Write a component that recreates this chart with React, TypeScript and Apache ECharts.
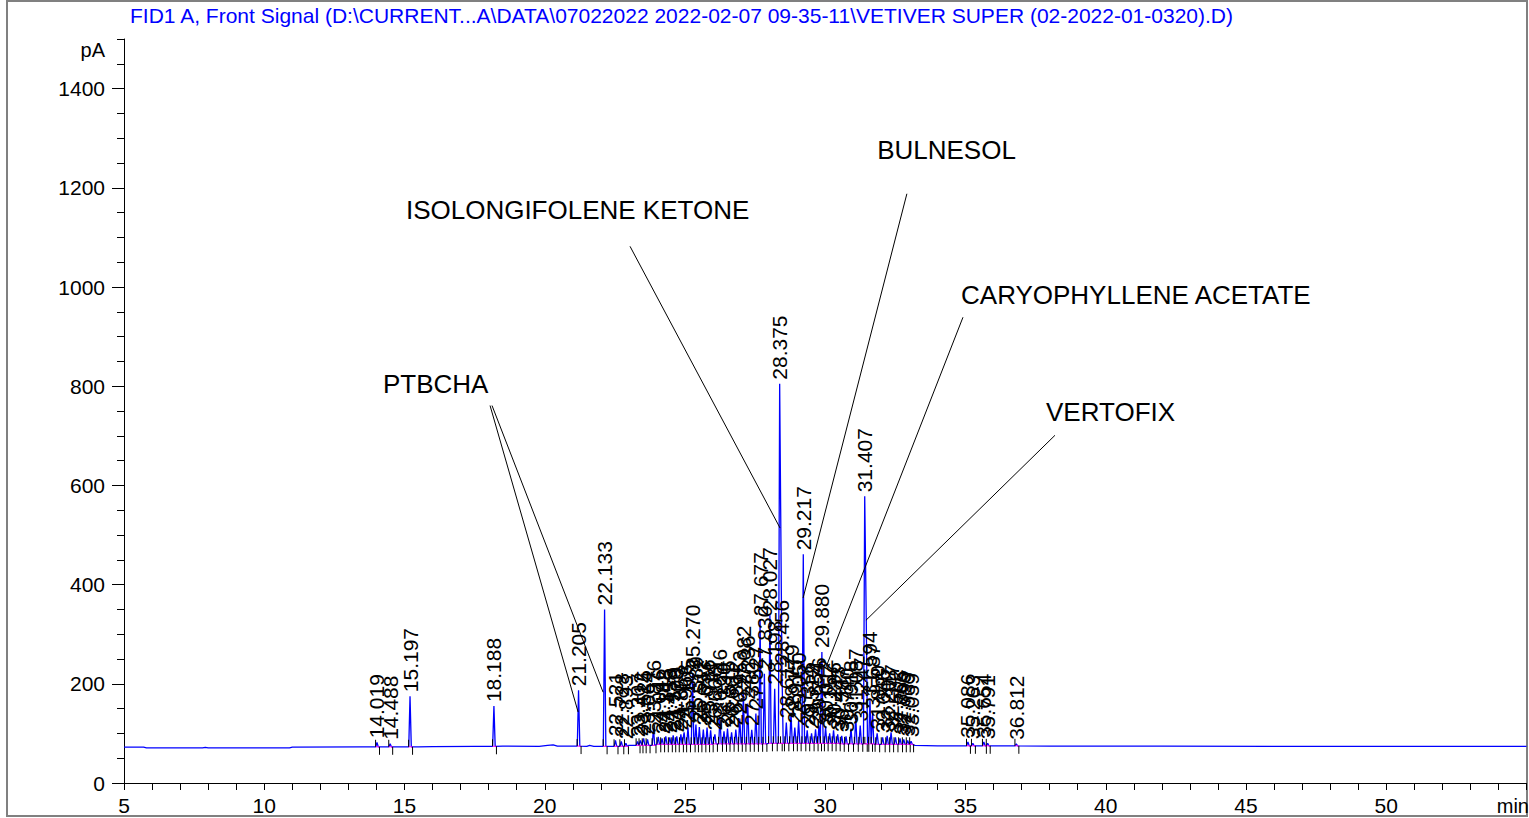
import React, { useEffect, useRef } from "react";
import * as echarts from "echarts";

const TITLE =
  "FID1 A, Front Signal (D:\\CURRENT...A\\DATA\\07022022 2022-02-07 09-35-11\\VETIVER SUPER (02-2022-01-0320).D)";

const X_LABELS = [5, 10, 15, 20, 25, 30, 35, 40, 45, 50];
const X_TICKS = [
  5, 6, 7, 8, 9, 10, 11, 12, 13, 14, 15, 16, 17, 18, 19, 20, 21, 22, 23, 24, 25, 26, 27, 28, 29, 30,
  31, 32, 33, 34, 35, 36, 37, 38, 39, 40, 41, 42, 43, 44, 45, 46, 47, 48, 49, 50, 51, 52, 53, 54, 55,
];
const Y_LABELS = [0, 200, 400, 600, 800, 1000, 1200, 1400];
const Y_MINOR = [
  0, 50, 100, 150, 200, 250, 300, 350, 400, 450, 500, 550, 600, 650, 700, 750, 800, 850, 900, 950,
  1000, 1050, 1100, 1150, 1200, 1250, 1300, 1350, 1400, 1450, 1500,
];

// baseline level of the signal [min, pA]
const BASELINE: [number, number][] = [
  [5, 72.5], [5.7, 72.5], [5.8, 71], [7.8, 71], [7.9, 72], [8.0, 71], [10.9, 71], [11.0, 72.5],
  [13.5, 73], [15.5, 73], [16, 73.5], [17.5, 74], [18.5, 74.5], [19.8, 74], [20.1, 76], [20.3, 77],
  [20.45, 74.5], [21.5, 74], [21.6, 76], [21.75, 74], [22.3, 74], [23.0, 76], [24.0, 78], [26.0, 79],
  [28.0, 80], [29.5, 80], [30.5, 79], [31.8, 78], [33.2, 76], [34.0, 75], [36.0, 75], [38.0, 74.5],
  [42.0, 74.5], [46.0, 74], [50.0, 74], [55.0, 74],
];

// peaks [retention time, apex pA]
const PEAK_TIMES = [
  14.019, 14.488, 15.197, 18.188, 21.205, 22.133, 22.521, 22.728, 22.893, 23.307, 23.412, 23.525,
  23.664, 23.876, 24.046, 24.182, 24.315, 24.458, 24.579, 24.706, 24.853, 24.968, 25.105, 25.27,
  25.389, 25.512, 25.653, 25.786, 25.914, 26.066, 26.246, 26.39, 26.515, 26.661, 26.812, 26.953,
  27.082, 27.236, 27.38, 27.527, 27.677, 27.83, 28.027, 28.198, 28.375, 28.456, 28.612, 28.779,
  28.915, 29.05, 29.217, 29.356, 29.512, 29.654, 29.776, 29.88, 30.012, 30.157, 30.296, 30.443,
  30.587, 30.74, 30.918, 31.087, 31.247, 31.407, 31.462, 31.594, 31.687, 31.85, 32.046, 32.207,
  32.347, 32.502, 32.665, 32.799, 32.939, 33.059, 35.086, 35.263, 35.654, 35.791, 36.812,
];
const PEAK_HEIGHTS = [
  82, 79, 175, 155, 187, 350, 86, 84, 80, 84, 86, 90,
  88, 111, 93, 90, 94, 92, 96, 94, 98, 102, 112, 222,
  118, 113, 108, 112, 106, 98, 133, 104, 110, 102, 108, 130,
  180, 160, 107, 140, 328, 220, 338, 190, 805, 232, 122, 142,
  112, 126, 461, 106, 100, 108, 116, 264, 112, 100, 106, 98,
  95, 94, 110, 134, 116, 578, 330, 168, 142, 100, 92, 95,
  102, 92, 90, 88, 86, 84, 83, 80, 83, 80, 79,
];
const UNLABELED = [31.462];

// compound annotations: text anchor (min, pA), leader lines [from, to]
const ANN_TEXT = ["PTBCHA", "ISOLONGIFOLENE KETONE", "BULNESOL", "CARYOPHYLLENE ACETATE", "VERTOFIX"];
const ANN_POS: [number, number][] = [
  [14.23, 804], [15.05, 1156], [31.85, 1277], [34.84, 983], [37.87, 747],
];
const ANN_LINES: [number, number, number, number][][] = [
  [[18.05, 761, 21.19, 143], [18.12, 761, 22.08, 183]],
  [[23.04, 1082, 28.39, 514]],
  [[32.91, 1188, 29.21, 373]],
  [[34.91, 939, 30.03, 234]],
  [[38.19, 701, 31.45, 328]],
];

const FONT = '"Liberation Sans", Arial, Helvetica, sans-serif';

function baseAt(t: number): number {
  let v = BASELINE[0][1];
  for (const [bt, bv] of BASELINE) {
    if (bt <= t) v = bv;
  }
  return v;
}

function buildTrace(): [number, number][] {
  const W = 0.045;
  const peakPts: [number, number][][] = PEAK_TIMES.map((rt, i) => {
    const b = baseAt(rt);
    return [[rt - W, b], [rt, PEAK_HEIGHTS[i]], [rt + W, b]];
  });
  const pts: [number, number][] = [];
  const inPeak = (t: number) => PEAK_TIMES.some((rt) => Math.abs(t - rt) <= 0.05);
  for (const p of BASELINE) if (!inPeak(p[0])) pts.push(p);
  for (let i = 0; i < peakPts.length; i++) {
    const cur = peakPts[i];
    const prev = peakPts[i - 1];
    const next = peakPts[i + 1];
    if (!(prev && prev[2][0] > cur[0][0])) pts.push(cur[0]);
    pts.push(cur[1]);
    if (!(next && next[0][0] < cur[2][0])) pts.push(cur[2]);
  }
  pts.sort((a, b) => a[0] - b[0]);
  return pts;
}

export default function App() {
  const ref = useRef<HTMLDivElement>(null);
  useEffect(() => {
    if (!ref.current) return;
    const chart = echarts.init(ref.current, undefined, { renderer: "svg" });
    const trace = buildTrace();
    const peakData = PEAK_TIMES.map((rt, i) => [rt, PEAK_HEIGHTS[i]]);
    const annData = ANN_POS.map((p) => [p[0], p[1]]);

    const option: any = {
      animation: false,
      backgroundColor: "#ffffff",
      grid: { left: 124, right: 2.5, top: 39, bottom: 35, containLabel: false },
      xAxis: {
        type: "value",
        min: 5,
        max: 55,
        axisLine: { show: true, lineStyle: { color: "#000", width: 1 } },
        axisTick: { show: true, length: 7, customValues: X_TICKS, lineStyle: { color: "#000" } },
        axisLabel: {
          customValues: X_LABELS,
          color: "#000",
          fontSize: 21,
          fontFamily: FONT,
          margin: 12,
          formatter: (v: number) => String(v),
        },
        splitLine: { show: false },
      },
      yAxis: [
        {
          type: "value",
          min: 0,
          max: 1500,
          position: "left",
          axisLine: { show: true, onZero: false, lineStyle: { color: "#000", width: 1 } },
          axisTick: { show: true, length: 12, customValues: Y_LABELS, lineStyle: { color: "#000" } },
          axisLabel: {
            customValues: Y_LABELS,
            color: "#000",
            fontSize: 21,
            fontFamily: FONT,
            margin: 19,
            formatter: (v: number) => String(v),
          },
          splitLine: { show: false },
        },
        {
          type: "value",
          min: 0,
          max: 1500,
          position: "left",
          axisLine: { show: false },
          axisTick: { show: true, length: 7, customValues: Y_MINOR, lineStyle: { color: "#000" } },
          axisLabel: { show: false },
          splitLine: { show: false },
        },
      ],
      graphic: [
        {
          type: "rect",
          silent: true,
          shape: { x: 7, y: 1, width: 1520, height: 815 },
          style: { fill: "none", stroke: "#808080", lineWidth: 2 },
        },
        {
          type: "text",
          x: 130,
          y: 15,
          style: {
            text: TITLE,
            fill: "#0000ff",
            font: `21px ${FONT}`,
            verticalAlign: "middle",
            align: "left",
          },
        },
        {
          type: "text",
          x: 105,
          y: 50,
          style: { text: "pA", fill: "#000", font: `20px ${FONT}`, align: "right", verticalAlign: "middle" },
        },
        {
          type: "text",
          x: 1529,
          y: 806,
          style: { text: "min", fill: "#000", font: `20px ${FONT}`, align: "right", verticalAlign: "middle" },
        },
      ],
      series: [
        {
          type: "line",
          data: trace,
          showSymbol: false,
          symbol: "none",
          lineStyle: { color: "#0000ff", width: 1.3 },
          z: 2,
        },
        {
          type: "custom",
          data: peakData,
          clip: false,
          z: 3,
          renderItem: (params: any, api: any) => {
            const rt = api.value(0);
            const h = api.value(1);
            const b = baseAt(rt);
            const apex = api.coord([rt, h]);
            const l = api.coord([rt - 0.05, b]);
            const r = api.coord([rt + 0.09, b]);
            const children: any[] = [
              {
                type: "line",
                shape: { x1: l[0], y1: l[1], x2: r[0], y2: r[1] },
                style: { stroke: "#ff00ff", lineWidth: 1 },
              },
              {
                type: "line",
                shape: { x1: l[0], y1: l[1], x2: l[0], y2: l[1] - 7 },
                style: { stroke: "#000", lineWidth: 1 },
              },
              {
                type: "line",
                shape: { x1: r[0], y1: r[1], x2: r[0], y2: r[1] + 8 },
                style: { stroke: "#000", lineWidth: 1 },
              },
            ];
            if (!UNLABELED.includes(rt)) {
              children.push({
                type: "text",
                x: apex[0],
                y: apex[1] - 4,
                rotation: Math.PI / 2,
                style: {
                  text: rt.toFixed(3),
                  fill: "#000",
                  font: `21px ${FONT}`,
                  align: "left",
                  verticalAlign: "middle",
                },
              });
            }
            return { type: "group", children };
          },
        },
        {
          type: "custom",
          data: annData,
          clip: false,
          z: 4,
          renderItem: (params: any, api: any) => {
            const i = params.dataIndex;
            const p = api.coord([api.value(0), api.value(1)]);
            const children: any[] = [
              {
                type: "text",
                x: p[0],
                y: p[1],
                style: {
                  text: ANN_TEXT[i],
                  fill: "#000",
                  font: `26px ${FONT}`,
                  align: "left",
                  verticalAlign: "middle",
                },
              },
            ];
            for (const seg of ANN_LINES[i]) {
              const a = api.coord([seg[0], seg[1]]);
              const c = api.coord([seg[2], seg[3]]);
              children.push({
                type: "line",
                shape: { x1: a[0], y1: a[1], x2: c[0], y2: c[1] },
                style: { stroke: "#000", lineWidth: 1 },
              });
            }
            return { type: "group", children };
          },
        },
      ],
    };
    chart.setOption(option);
    return () => chart.dispose();
  }, []);

  return (
    <div
      ref={ref}
      style={{ position: "fixed", left: 0, top: 0, width: 1529, height: 818, background: "#fff" }}
    />
  );
}
